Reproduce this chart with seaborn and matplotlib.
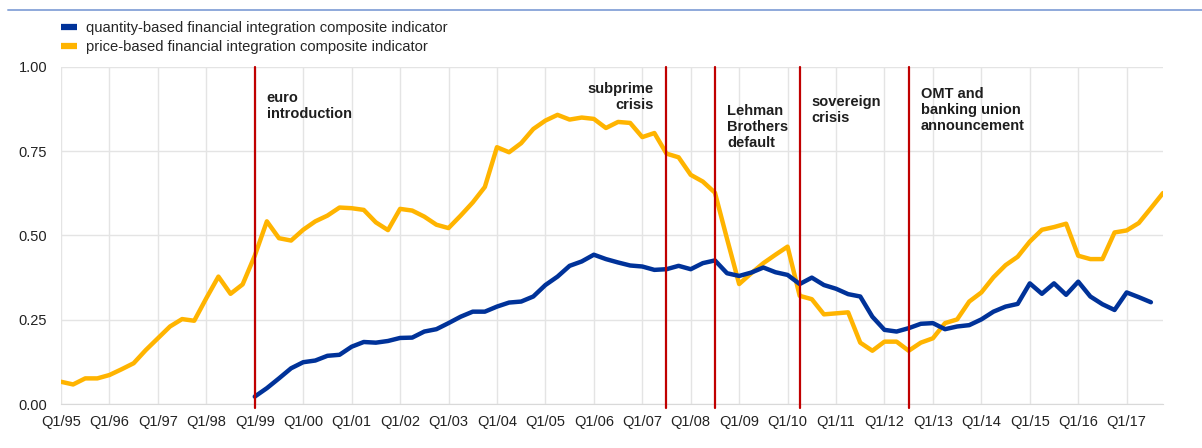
import numpy as np
import pandas as pd
import seaborn as sns
import matplotlib.pyplot as plt
from matplotlib.lines import Line2D

# quarterly series, first value = Q1/95
price_based = [
    0.066, 0.058, 0.076, 0.076, 0.086, 0.103, 0.121, 0.160,
    0.195, 0.230, 0.252, 0.247, 0.314, 0.378, 0.327, 0.355,
    0.440, 0.542, 0.492, 0.485, 0.517, 0.542, 0.559, 0.583,
    0.581, 0.576, 0.539, 0.516, 0.579, 0.574, 0.556, 0.532,
    0.522, 0.559, 0.598, 0.644, 0.762, 0.747, 0.774, 0.816,
    0.841, 0.858, 0.844, 0.850, 0.846, 0.819, 0.837, 0.834,
    0.792, 0.804, 0.743, 0.732, 0.680, 0.660, 0.627, 0.490,
    0.356, 0.388, 0.418, 0.443, 0.467, 0.321, 0.311, 0.266,
    0.269, 0.272, 0.182, 0.158, 0.185, 0.185, 0.158, 0.182,
    0.195, 0.240, 0.251, 0.304, 0.331, 0.376, 0.412, 0.437,
    0.482, 0.517, 0.525, 0.535, 0.440, 0.430, 0.430, 0.509,
    0.515, 0.537, 0.581, 0.626,
]

# quantity-based starts with the euro (Q1/99)
quantity_start = 16
quantity_based = [
    0.022, 0.047, 0.076, 0.106, 0.124, 0.129, 0.143, 0.146,
    0.170, 0.184, 0.182, 0.187, 0.196, 0.197, 0.215, 0.222,
    0.240, 0.259, 0.274, 0.274, 0.289, 0.301, 0.304, 0.319,
    0.353, 0.378, 0.410, 0.423, 0.443, 0.430, 0.420, 0.411,
    0.408, 0.398, 0.400, 0.410, 0.400, 0.418, 0.426, 0.388,
    0.380, 0.390, 0.405, 0.391, 0.383, 0.356, 0.375, 0.353,
    0.342, 0.326, 0.319, 0.259, 0.220, 0.215, 0.225, 0.238,
    0.240, 0.222, 0.230, 0.234, 0.251, 0.274, 0.289, 0.297,
    0.358, 0.327, 0.358, 0.324, 0.363, 0.319, 0.296, 0.279,
    0.331, 0.317, 0.302,
]

tick_labels = [f"Q1/{y % 100:02d}" for y in range(1995, 2018)]

# (quarter index, label, alignment, label top in data units)
events = [
    (16, "euro\nintroduction", "left", 0.928),
    (50, "subprime\ncrisis", "right", 0.956),
    (54, "Lehman\nBrothers\ndefault", "left", 0.891),
    (61, "sovereign\ncrisis", "left", 0.916),
    (70, "OMT and\nbanking union\nannouncement", "left", 0.94),
]

label_q = "quantity-based financial integration composite indicator"
label_p = "price-based financial integration composite indicator"
BLUE = "#003299"
YELLOW = "#ffb400"
RED = "#c00000"

df_p = pd.DataFrame({"t": np.arange(len(price_based)), "value": price_based, "series": label_p})
df_q = pd.DataFrame({"t": np.arange(len(quantity_based)) + quantity_start,
                     "value": quantity_based, "series": label_q})
df = pd.concat([df_q, df_p], ignore_index=True)

sns.set_style("white")
plt.rcParams["font.family"] = ["Liberation Sans", "DejaVu Sans"]

fig = plt.figure(figsize=(12.02, 4.48), dpi=100)
ax = fig.add_axes([61 / 1202, 1 - 404 / 448, 1102 / 1202, 337 / 448])

sns.lineplot(data=df, x="t", y="value", hue="series",
             palette={label_q: BLUE, label_p: YELLOW},
             hue_order=[label_p, label_q], linewidth=3.2, legend=False, ax=ax)

for q, txt, ha, ytop in events:
    ax.axvline(q, ymin=-0.012, ymax=1, color=RED, lw=1.6, clip_on=False, zorder=3)
    dx = 12 if ha == "left" else -13
    ax.annotate(txt, xy=(q, ytop), xytext=(dx, 0), textcoords="offset pixels",
                ha=ha, va="top", fontsize=10.5, fontweight="bold",
                color="#1e1e1e", linespacing=1.18)

ax.set_xlim(0, 91)
ax.set_ylim(0, 1)
ax.set_xticks(np.arange(0, 92, 4))
ax.set_xticklabels(tick_labels)
ax.set_yticks([0, 0.25, 0.5, 0.75, 1.0])
ax.set_yticklabels(["0.00", "0.25", "0.50", "0.75", "1.00"])
ax.tick_params(axis="both", length=0, labelsize=10.5, colors="#222222")
ax.tick_params(axis="x", pad=8)
ax.tick_params(axis="y", pad=10)
ax.grid(True, color="#e4e4e4", lw=1)
ax.set_axisbelow(True)
ax.set_xlabel("")
ax.set_ylabel("")
for side in ["top", "right", "left"]:
    ax.spines[side].set_visible(False)
ax.spines["bottom"].set_color("#d9d9d9")

# thin rule at the very top
fig.add_artist(Line2D([8 / 1202, 1], [1 - 10 / 448] * 2, color="#8ea9db", lw=1.4))

handles = [Line2D([], [], color=BLUE, lw=4.5, solid_capstyle="butt"),
           Line2D([], [], color=YELLOW, lw=4.5, solid_capstyle="butt")]
fig.legend(handles, [label_q, label_p], loc="upper left",
           bbox_to_anchor=(61 / 1202, 1 - 21 / 448), frameon=False,
           fontsize=10.6, handlelength=1.1, handletextpad=0.62,
           labelspacing=0.35, borderpad=0, borderaxespad=0)

plt.savefig("out.png", dpi=100)
plt.close()
